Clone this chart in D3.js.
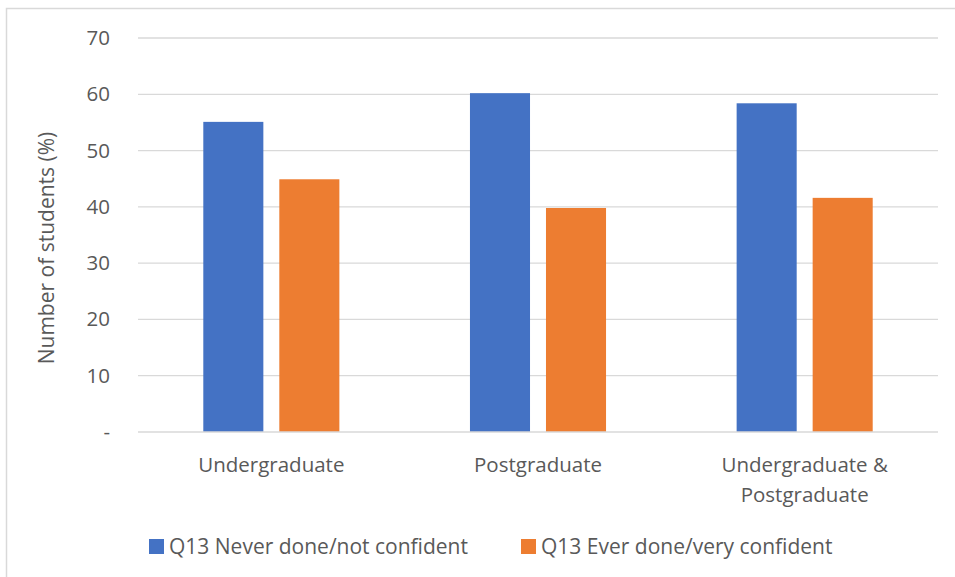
<!DOCTYPE html>
<html>
<head>
<meta charset="utf-8">
<script src="https://cdn.jsdelivr.net/npm/d3@7"></script>
<style>
  html, body { margin: 0; padding: 0; background: #fff; }
  svg text { font-family: "Open Sans", "Noto Sans", sans-serif; fill: #595959; }
</style>
</head>
<body>
<svg id="chart" width="955" height="577"></svg>
<script>
// Share of students per level of study, by Q13 answer group
const categories = [["Undergraduate"], ["Postgraduate"], ["Undergraduate &", "Postgraduate"]];
const seriesNames = ["Q13 Never done/not confident", "Q13 Ever done/very confident"];
const neverDone = [55.1, 60.2, 58.4];
const everDone = [44.9, 39.8, 41.6];
const yTicks = [0, 10, 20, 30, 40, 50, 60, 70];
const yTickLabels = ["-", "10", "20", "30", "40", "50", "60", "70"];
const colors = ["#4472C4", "#ED7D31"];

const svg = d3.select("#chart");
const margin = { left: 138, right: 17, top: 38, bottom: 145 };
const W = 955, H = 577;
const plotW = W - margin.left - margin.right;
const plotH = H - margin.top - margin.bottom;
const fontSize = "20.5px";
const legendFont = "21px";

// outer chart frame
svg.append("rect")
  .attr("x", 6.5).attr("y", 8.5)
  .attr("width", 960).attr("height", 600)
  .attr("fill", "none").attr("stroke", "#D9D9D9").attr("stroke-width", 1.5);

const g = svg.append("g").attr("transform", `translate(${margin.left},${margin.top})`);

const x0 = d3.scaleBand().domain(d3.range(categories.length)).range([0, plotW]).paddingInner(0).paddingOuter(0);
const x1 = d3.scaleBand().domain([0, 1]).range([65.3, x0.bandwidth() - 65.3]).paddingInner(0.21);
const y = d3.scaleLinear().domain([0, 70]).range([plotH, 0]);

// horizontal gridlines
g.append("g").selectAll("line").data(yTicks.slice(1)).join("line")
  .attr("x1", 0).attr("x2", plotW)
  .attr("y1", d => y(d)).attr("y2", d => y(d))
  .attr("stroke", "#D9D9D9").attr("stroke-width", 1.3);

// y-axis tick labels
const yAxis = d3.axisLeft(y).tickValues(yTicks).tickFormat((d, i) => yTickLabels[i]).tickSize(0).tickPadding(28);
const yg = g.append("g").call(yAxis);
yg.select(".domain").remove();
yg.selectAll("text").style("font-size", fontSize).attr("fill", "#595959")
  .style("font-family", "'Open Sans', sans-serif");

// bars
const series = [neverDone, everDone];
series.forEach((vals, s) => {
  g.append("g").selectAll("rect").data(vals).join("rect")
    .attr("x", (d, i) => x0(i) + x1(s))
    .attr("width", x1.bandwidth())
    .attr("y", d => y(d))
    .attr("height", d => plotH - y(d))
    .attr("fill", colors[s]);
});

// x axis baseline
g.append("line").attr("x1", 0).attr("x2", plotW).attr("y1", plotH).attr("y2", plotH)
  .attr("stroke", "#D9D9D9").attr("stroke-width", 1.3);

// category labels
const cat = g.append("g");
categories.forEach((lines, i) => {
  const t = cat.append("text")
    .attr("x", x0(i) + x0.bandwidth() / 2)
    .attr("y", plotH + 40)
    .attr("text-anchor", "middle")
    .style("font-size", fontSize);
  lines.forEach((ln, k) => {
    t.append("tspan").attr("x", x0(i) + x0.bandwidth() / 2).attr("dy", k === 0 ? 0 : 30).text(ln);
  });
});

// y-axis title
svg.append("text")
  .attr("transform", `translate(54,${margin.top + plotH / 2 + 13}) rotate(-90)`)
  .attr("text-anchor", "middle")
  .style("font-size", legendFont)
  .text("Number of students (%)");

// legend
const legendItems = [{ x: 149, name: seriesNames[0], c: colors[0] }, { x: 521, name: seriesNames[1], c: colors[1] }];
const lg = svg.append("g");
legendItems.forEach(it => {
  lg.append("rect").attr("x", it.x).attr("y", 539).attr("width", 15).attr("height", 15).attr("fill", it.c);
  lg.append("text").attr("x", it.x + 20).attr("y", 554).style("font-size", legendFont).text(it.name);
});
</script>
</body>
</html>
